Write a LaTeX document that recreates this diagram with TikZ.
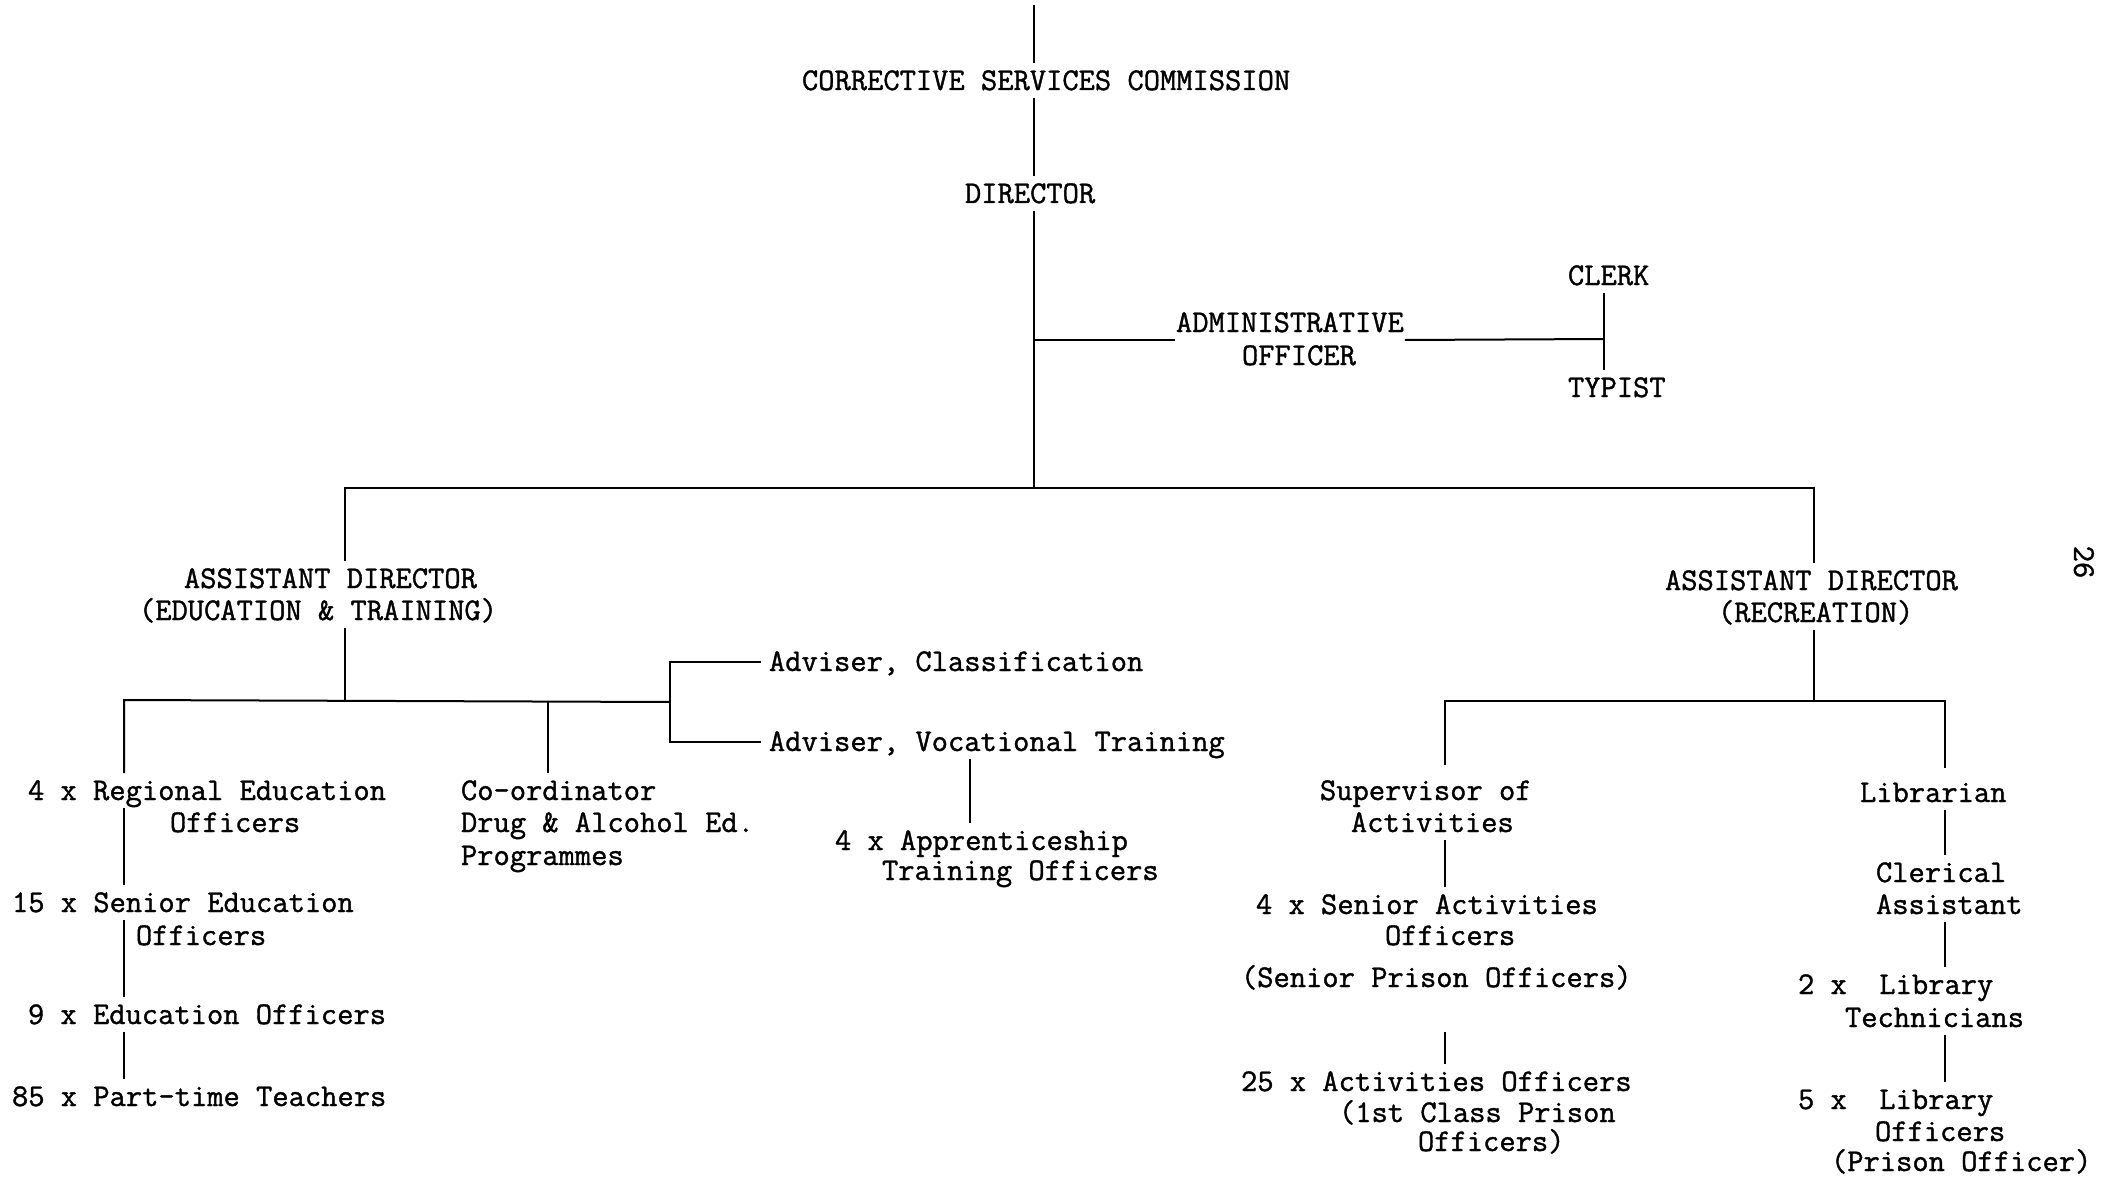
\documentclass[tikz,border=0pt]{standalone}
\usepackage{fontspec}
\newfontfamily\twfont[FakeBold=1.2]{Latin Modern Mono}
\begin{document}
\begin{tikzpicture}[x=1pt,y=-1pt,line width=2pt,
  lbl/.style={font=\fontsize{31.6}{33}\selectfont\twfont,anchor=base west,
    inner xsep=0pt,inner ysep=7pt,text height=19pt,text depth=0pt}]
\useasboundingbox[fill=white] (0,0) rectangle (2105,1177);
% ---- text nodes
\node[lbl] (csc) at (801,90) {CORRECTIVE SERVICES COMMISSION};
\node[lbl] (dir) at (964,203) {DIRECTOR};
\node[lbl] (adm) at (1175,332) {ADMINISTRATIVE};
\node[lbl] (adm2) at (1241,365) {OFFICER};
\node[lbl] (clerk) at (1567,285) {CLERK};
\node[lbl] (typist) at (1567,397) {TYPIST};
\node[lbl] (ade1) at (183,588) {ASSISTANT DIRECTOR};
\node[lbl] (ade2) at (138,620) {(EDUCATION \& TRAINING)};
\node[lbl] (reg1) at (27,800) {4 x Regional Education};
\node[lbl] (reg2) at (169,832) {Officers};
\node[lbl] (sen1) at (11,912) {15 x Senior Education};
\node[lbl] (sen2) at (135,945) {Officers};
\node[lbl] (edu) at (27,1024) {9 x Education Officers};
\node[lbl] (pt) at (11,1106) {85 x Part-time Teachers};
\node[lbl] (co1) at (460,800) {Co-ordinator};
\node[lbl] (co2) at (460,832) {Drug \& Alcohol Ed.};
\node[lbl] (co3) at (460,865) {Programmes};
\node[lbl] (advc) at (768,671) {Adviser, Classification};
\node[lbl] (advv) at (768,751) {Adviser, Vocational Training};
\node[lbl] (app1) at (834,850) {4 x Apprenticeship};
\node[lbl] (app2) at (881,880) {Training Officers};
\node[lbl] (adr1) at (1664,590) {ASSISTANT DIRECTOR};
\node[lbl] (adr2) at (1717,622) {(RECREATION)};
\node[lbl] (sup1) at (1319,800) {Supervisor of};
\node[lbl] (sup2) at (1350,832) {Activities};
\node[lbl] (sa1) at (1255,914) {4 x Senior Activities};
\node[lbl] (sa2) at (1384,945) {Officers};
\node[lbl] (spo) at (1240,987) {(Senior Prison Officers)};
\node[lbl] (ao1) at (1240,1091) {25 x Activities Officers};
\node[lbl] (ao2) at (1338,1122) {(1st Class Prison};
\node[lbl] (ao3) at (1417,1151) {Officers)};
\node[lbl] (lib) at (1859,802) {Librarian};
\node[lbl] (cl1) at (1875,882) {Clerical};
\node[lbl] (cl2) at (1875,914) {Assistant};
\node[lbl] (lt1) at (1797,994) {2 x\ \ Library};
\node[lbl] (lt2) at (1844,1027) {Technicians};
\node[lbl] (lo1) at (1797,1109) {5 x\ \ Library};
\node[lbl] (lo2) at (1874,1141) {Officers};
\node[lbl] (lo3) at (1830,1171) {(Prison Officer)};
\node[lbl,anchor=center,text height=,inner ysep=0pt,rotate=-90] (pg) at (2084,562) {26};
% ---- junction coordinates
\coordinate (top) at (1034,5);
\coordinate (hub) at (1034,488);
\coordinate (cj) at (1604,339);
\coordinate (hl) at (345,488);
\coordinate (hr) at (1814,488);
\coordinate (lj) at (345,700);
\coordinate (le) at (124,700);
\coordinate (lc) at (548,702);
\coordinate (la) at (670,702);
\coordinate (vj) at (970,758);
\coordinate (rj) at (1814,701);
\coordinate (rs) at (1445,701);
\coordinate (rl) at (1945,701);
% ---- connectors
\draw (top) -- (top |- csc.north);
\draw (top |- csc.south) -- (top |- dir.north);
\draw (top |- dir.south) -- (hub);
\draw (top |- adm.south west) -- (adm.south west);
\draw (adm.south east) -- (cj);
\draw (cj |- clerk.south) -- (cj |- typist.north);
\draw (hl |- ade1.north) -- (hl) -- (hr) -- (hr |- adr1.north);
% education & training branch
\draw (lj |- ade2.south) -- (lj);
\draw (le |- reg1.north) -- (le) -- (la);
\draw (lc) -- (lc |- co1.north);
\draw ([xshift=-7pt]advc.west) -- (la |- advc.west) -- (la |- advv.west) -- ([xshift=-7pt]advv.west);
\draw (vj |- advv.south) -- (vj |- app1.north);
\draw (le |- reg1.south) -- (le |- sen1.north);
\draw (le |- sen1.south) -- (le |- edu.north);
\draw (le |- edu.south) -- (le |- pt.north);
% recreation branch
\draw (rj |- adr2.south) -- (rj);
\draw[shorten <=8pt,shorten >=7pt] (rs |- sup1.north) -- (rs) -- (rl) -- (rl |- lib.north);
\draw (rs |- sup2.south) -- (rs |- sa1.north);
\draw[shorten <=37pt] (rs |- spo.south) -- (rs |- ao1.north);
\draw (rl |- lib.south) -- (rl |- cl1.north);
\draw (rl |- cl2.south) -- (rl |- lt1.north);
\draw (rl |- lt2.south) -- (rl |- lo1.north);
\end{tikzpicture}
\end{document}
